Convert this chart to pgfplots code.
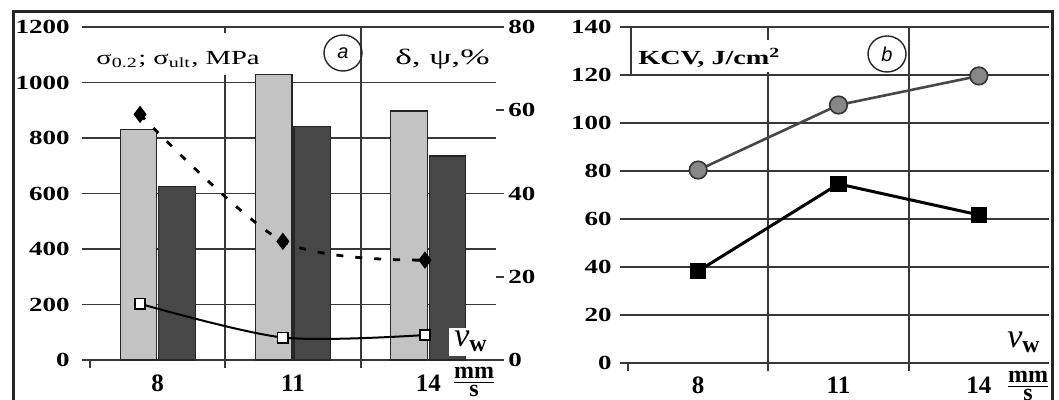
\documentclass[border=0pt]{standalone}
\usepackage{fontspec}
\setmainfont{Liberation Serif}
\setsansfont{Liberation Sans}
\usepackage{graphicx}
\usepackage{pgfplots}
\pgfplotsset{compat=1.18}
\definecolor{lightbar}{HTML}{C3C3C3}
\definecolor{darkbar}{HTML}{474747}
\definecolor{gridc}{HTML}{383838}
\definecolor{circfill}{HTML}{878787}
\definecolor{circline}{HTML}{474747}

\tikzset{vgrid/.style={draw=gridc, line width=0.9pt}}
\pgfplotsset{
  panel/.style={
    scale only axis,
    clip=false,
    axis line style={draw=none},
    xmin=-0.5, xmax=2.5,
    xtick={0,1,2},
    xticklabels={8,11,14},
    xtick pos=bottom,
    ytick pos=left,
    major x tick style={draw=none},
    minor xtick={-0.5,0.5,1.5},
    minor x tick style={draw=gridc, line width=0.9pt},
    tick align=outside,
    major tick length=4pt,
    minor tick length=4pt,
    ymajorgrids,
    major grid style={draw=gridc, line width=0.9pt},
    ytick style={draw=gridc, line width=0.9pt},
    /pgf/number format/assume math mode=true,
    /pgf/number format/1000 sep={},
    yticklabel={\scalebox{1.35}[1]{\pgfmathprintnumber{\tick}}},
    yticklabel style={font=\fontsize{10}{10}\selectfont\bfseries, inner sep=0pt},
    xticklabel style={font=\fontsize{12.5}{12.5}\selectfont\bfseries, inner sep=0pt, anchor=center},
  },
}

\begin{document}
\begin{tikzpicture}[x=1pt,y=1pt]
\useasboundingbox (0,0) rectangle (529.5,200);

% ---------------- panel a : bars (left axis)
\begin{axis}[panel, at={(45pt,20pt)}, anchor=south west, width=203pt, height=166.5pt,
  ymin=0, ymax=1200, ytick={0,200,...,1200},
  yticklabel style={anchor=east, xshift=-6pt},
  xticklabel style={yshift=-7.5pt},
]
\draw[vgrid] (axis cs:0.5,0) -- (axis cs:0.5,1200);
\draw[vgrid] (axis cs:1.5,0) -- (axis cs:1.5,1200);
\addplot[ybar, bar width=0.27, bar shift=-0.142, fill=lightbar, draw=black!85, line width=0.6pt]
  coordinates {(0,830) (1,1030) (2,897)};
\addplot[ybar, bar width=0.27, bar shift=0.142, fill=darkbar, draw=black!85, line width=0.6pt]
  coordinates {(0,625) (1,840) (2,735)};
\end{axis}

% ---------------- panel a : lines (right axis)
\begin{axis}[panel, at={(45pt,20pt)}, anchor=south west, width=203pt, height=166.5pt,
  ymin=0, ymax=80, ytick={0,20,...,80},
  axis x line=none, axis y line*=right, ymajorgrids=false,
  ytick pos=right, yticklabel pos=right,
  y axis line style={draw=none},
  yticklabel style={anchor=west, xshift=2pt},
]
\addplot[smooth, black, line width=1.4pt, dash pattern=on 3.5pt off 6pt,
  mark=diamond*, mark size=3.2pt, mark options={solid, fill=black}]
  coordinates {(-0.13,59) (0.925,28.5) (1.975,24)};
\addplot[smooth, black, line width=1pt,
  mark=square*, mark size=2.6pt, mark options={fill=white, line width=0.8pt}]
  coordinates {(-0.13,13.5) (0.925,5.4) (1.975,6)};
\end{axis}

% ---------------- panel b
\begin{axis}[panel, at={(314pt,18.5pt)}, anchor=south west, width=210.5pt, height=168pt,
  ymin=0, ymax=140, ytick={0,20,...,140},
  yticklabel style={anchor=east, xshift=-4pt},
  xticklabel style={yshift=-7pt},
]
\draw[vgrid] (axis cs:0.5,0) -- (axis cs:0.5,140);
\draw[vgrid] (axis cs:1.5,0) -- (axis cs:1.5,140);
\addplot[circline, line width=1.3pt, mark=*, mark size=4.4pt,
  mark options={fill=circfill, draw=black!80, line width=0.8pt}]
  coordinates {(0,80.4) (1,107.5) (2,119.6)};
\addplot[black, line width=1.5pt, mark=square*, mark size=3.3pt]
  coordinates {(0,38.3) (1,74.6) (2,61.7)};
\end{axis}

% ---------------- annotations panel a
\fill[white] (46.5,162.5) rectangle (116,183.5);
\node[anchor=base west, inner sep=0pt, font=\fontsize{10}{10}\selectfont] at (48,167.5)
  {\scalebox{1.43}[1]{σ\textsubscript{0.2}; σ\textsubscript{ult}, MPa}};
\node[anchor=base east, inner sep=0pt, font=\fontsize{11}{11}\selectfont] at (245,167.5)
  {\scalebox{1.6}[1]{δ, ψ,\%}};
\draw[line width=0.7pt, black!85] (171.5,173.5) ellipse [x radius=9.5pt, y radius=9pt];
\node[font=\fontsize{10}{10}\selectfont\sffamily\itshape] at (171.5,173.5) {a};
\fill[white] (224.5,22) rectangle (246.5,36);
\node[font=\fontsize{17}{17}\selectfont\itshape] at (235.5,29.5) {v\textsubscript{\normalfont\bfseries w}};
\node[inner sep=0pt, font=\fontsize{12}{12}\selectfont] at (237,9) {$\frac{\hbox{\bfseries mm}}{\hbox{\bfseries s}}$};

% ---------------- annotations panel b
\fill[white] (316,164) rectangle (389,180);
\draw[gridc, line width=0.9pt] (315.5,186.5) -- (315.5,162.5);
\node[anchor=base west, inner sep=0pt, font=\fontsize{10}{10}\selectfont\bfseries] at (319,167.5)
  {\scalebox{1.41}[1]{KCV, J/cm\textsuperscript{2}}};
\draw[line width=0.7pt, black!85] (443.5,173) ellipse [x radius=9.5pt, y radius=9pt];
\node[font=\fontsize{10}{10}\selectfont\sffamily\itshape] at (443.5,173) {b};
\node[font=\fontsize{17}{17}\selectfont\itshape] at (512,29) {v\textsubscript{\normalfont\bfseries w}};
\node[inner sep=0pt, font=\fontsize{12}{12}\selectfont] at (514,7) {$\frac{\hbox{\bfseries mm}}{\hbox{\bfseries s}}$};

% ---------------- frame
\draw[line width=1.5pt, black!85] (6.5,-20) rectangle (526,194);
\end{tikzpicture}
\end{document}
